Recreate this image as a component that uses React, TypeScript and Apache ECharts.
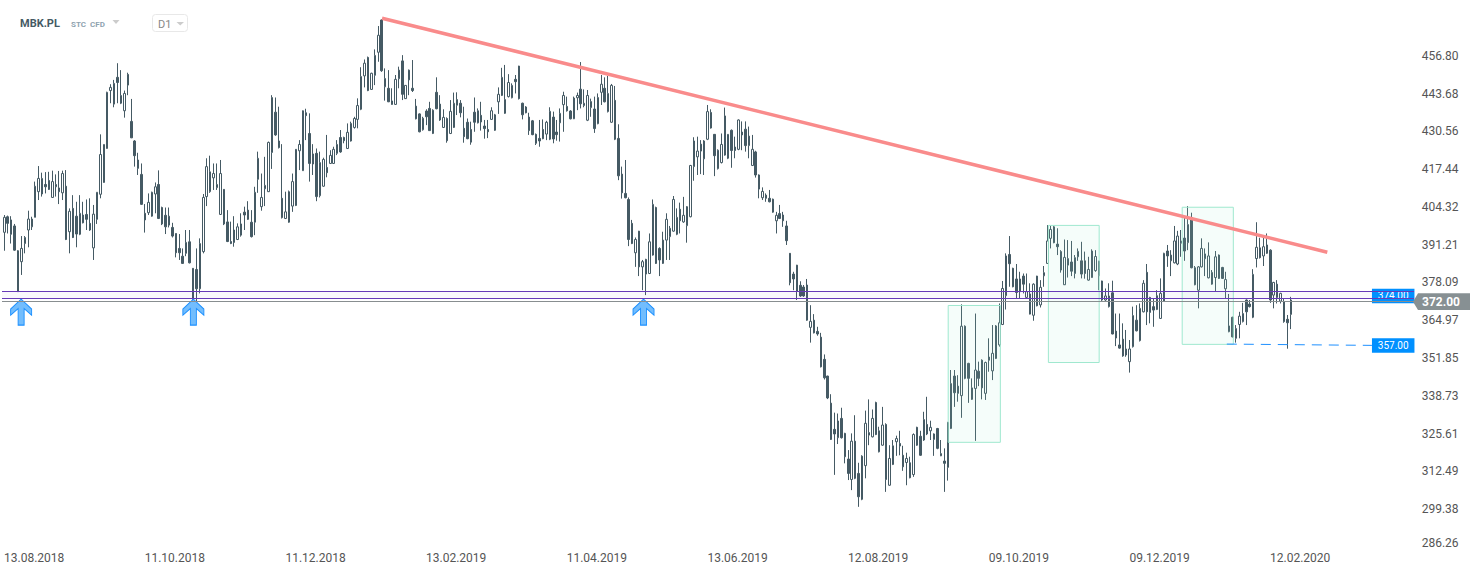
import React, { useEffect, useRef } from "react";
import * as echarts from "echarts";

// Candles: [open, close, low, high], grouped by leg of the move.
const autumn2018: number[][] = [
[395.5,400.7,389.1,401.5],[400.9,398.6,395.1,401.3],[394.8,399.8,391.6,401.1],[397.7,389.3,389.1,398.4],[389.1,374.9,374.9,389.3],[385.3,389.9,380.7,394.2],[391.6,393.7,388.2,394.2],[396.3,400.1,390.3,403.0],[397.4,400.1,396.3,400.9],[400.7,411.5,400.7,413.1],
[409.6,414.2,406.7,418.5],[408.8,414.2,407.9,416.2],[412.1,411.3,409.0,416.4],[413.5,410.4,410.2,416.5],[407.6,413.1,407.5,416.9],[411.3,412.1,407.9,415.6],[410.9,409.6,405.3,416.8],[409.2,415.9,406.7,416.9],[411.5,393.0,392.8,417.1],[395.7,402.8,388.2,403.8],
[403.8,393.7,393.5,408.4],[401.1,394.9,390.3,406.1],[394.8,402.1,394.5,408.4],[401.5,398.8,398.6,406.1],[401.7,400.0,396.3,406.9],[398.6,396.3,396.0,407.3],[390.1,401.8,385.9,405.0],[400.0,409.4,398.4,409.4],[408.7,422.5,407.3,429.5],[412.8,426.0,412.7,426.0],
[424.6,444.1,424.5,444.3],[444.7,445.8,440.3,446.9],[440.0,447.2,438.9,448.4],[449.3,447.5,440.3,454.2],[440.3,443.0,440.0,451.8],[437.7,443.7,435.3,444.7],[450.3,446.6,443.1,450.9],[434.0,428.3,428.2,441.8],[427.2,422.1,418.3,427.5],[420.6,417.7,415.4,423.1],
[415.6,405.2,405.0,419.4],[402.1,399.8,395.4,405.3],[402.3,405.9,401.5,409.0],[401.1,409.4,400.9,409.6],[408.8,411.3,402.1,412.8],[412.1,400.3,400.1,417.0],[404.1,398.4,398.0,404.4],[401.4,397.4,394.9,404.1],[398.0,401.1,397.2,404.1],[397.2,394.2,393.7,398.8],
[395.1,388.4,386.8,395.1],[389.9,388.4,385.9,394.9],[387.2,384.7,384.5,389.9],[388.2,392.0,387.2,396.3],[392.2,384.9,384.7,396.3],[383.0,372.0,371.6,383.0],[382.6,375.9,371.4,389.9],[375.9,391.6,374.3,393.4],[388.8,407.6,388.2,408.8],[407.9,418.3,404.6,421.2],
];
const winter2018: number[][] = [
[409.6,416.5,409.2,422.1],[414.4,415.9,410.2,419.4],[411.0,412.1,410.2,419.4],[401.7,415.9,401.5,420.6],[410.4,398.4,398.0,410.5],[399.1,392.3,392.1,403.2],[392.3,391.6,391.4,399.2],[396.3,392.0,390.5,401.1],[393.0,397.4,392.8,398.6],[394.5,398.4,394.0,402.1],
[402.5,401.5,396.3,404.4],[403.2,400.0,399.8,406.3],[399.0,394.0,393.7,403.2],[399.0,409.4,394.5,411.3],[413.9,421.2,409.2,423.5],[404.4,407.6,403.0,415.9],[410.6,411.8,404.6,421.7],[409.6,426.7,409.5,427.0],[423.2,442.3,417.5,443.1],[437.2,429.3,429.0,442.3],
[427.2,424.9,424.6,439.1],[407.3,400.6,400.3,426.1],[400.3,402.6,400.1,409.6],[399.0,409.6,398.8,410.0],[404.6,413.1,402.6,415.9],[404.8,424.3,404.6,424.4],[423.8,426.0,417.1,427.5],[416.9,437.7,416.8,437.8],[437.0,436.0,427.5,438.4],[429.8,419.4,413.1,436.8],
[422.7,419.2,415.4,426.1],[422.9,407.9,406.3,424.6],[408.2,419.7,407.6,423.5],[411.5,420.8,411.3,421.4],[418.0,416.2,414.6,429.3],[419.4,422.2,419.2,424.0],[419.4,424.3,419.2,425.2],[422.9,426.0,422.3,427.5],[428.4,423.4,423.1,431.0],[428.4,427.3,426.4,428.7],
[424.6,430.2,424.4,433.3],[427.2,433.3,427.0,433.9],[431.9,435.0,431.5,435.6],[434.7,439.5,431.6,442.0],[438.2,449.6,437.9,452.8],[449.8,454.2,445.8,455.5],[456.2,444.7,444.5,456.5],[445.1,450.7,444.9,450.9],[450.0,456.9,446.6,459.0],[458.0,463.9,454.7,467.1],
[469.2,451.6,451.2,469.4],
];
const spring2019: number[][] = [
[446.0,448.9,441.2,452.4],[445.5,440.8,440.7,451.8],[441.1,439.9,439.8,445.5],[439.9,448.6,439.7,450.1],[448.8,451.8,445.5,453.0],[455.0,443.4,441.4,457.0],[441.9,446.5,441.8,446.6],[448.4,451.8,443.1,452.0],[445.5,444.7,444.2,455.3],[439.3,434.9,434.7,441.8],
[436.6,430.4,430.2,436.8],[431.1,435.1,430.8,435.6],[437.6,435.6,432.7,438.2],[438.5,430.8,430.7,440.8],[429.8,437.9,429.6,438.2],[444.1,438.4,438.2,449.3],[440.0,434.5,434.2,443.1],[431.9,435.4,431.7,438.2],[435.0,427.3,426.6,435.4],[429.8,437.5,429.6,441.4],
[431.9,440.3,431.7,444.0],[439.6,441.6,436.2,444.1],[440.3,437.0,435.4,441.4],[431.6,428.7,426.6,439.1],[433.7,428.0,427.8,435.0],[431.2,426.8,425.9,433.9],[437.2,433.7,430.4,442.3],[433.5,437.7,433.3,438.5],[436.1,433.8,430.8,440.8],[432.4,431.5,428.0,434.5],
[431.2,430.4,428.2,434.5],[434.7,437.7,434.5,438.9],[430.9,436.3,430.7,436.6],[440.8,443.4,436.6,445.8],[443.0,449.3,442.8,452.6],[436.8,441.6,436.6,453.6],[442.6,447.5,442.3,450.4],[442.2,446.5,442.0,447.2],[448.6,447.8,443.7,450.1],[453.2,441.9,441.6,453.3],
[440.3,436.3,434.7,440.5],[439.0,437.0,436.8,439.3],[435.5,430.8,429.3,437.0],[434.2,429.4,429.2,434.5],[429.5,426.4,425.8,429.8],[428.1,427.2,425.2,434.5],[431.2,428.0,427.8,434.7],[429.6,433.7,427.5,434.2],[427.8,437.5,427.5,438.9],[435.5,427.9,426.4,437.4],
[430.3,429.4,427.3,434.5],[433.5,436.8,427.0,438.5],[439.8,443.0,430.4,444.3],[439.2,437.7,437.4,442.6],[437.6,434.9,434.7,437.9],[434.9,442.1,434.8,442.6],[442.2,443.0,437.9,444.0],[445.2,440.1,438.5,454.6],[439.5,440.3,438.9,445.1],[434.4,443.0,434.1,444.9],
[438.8,440.9,435.6,441.9],[438.3,431.5,430.0,442.6],[433.2,442.3,433.0,443.7],[444.1,446.9,439.7,450.1],[445.5,440.8,440.6,449.3],[437.4,443.7,437.1,449.8],[433.7,446.5,433.5,447.0],[441.3,427.8,427.5,446.3],[428.1,415.1,413.6,433.0],[415.7,409.2,407.2,418.3],
[409.0,407.5,407.3,420.6],[406.9,393.0,390.7,407.6],[398.6,391.6,391.4,399.8],[388.4,393.0,383.5,393.7],[395.9,383.5,380.3,396.0],[383.5,385.3,375.4,385.9],[386.1,381.0,373.7,386.3],[381.2,392.2,381.0,395.1],[387.6,405.2,387.4,406.9],[404.1,384.7,384.5,404.4],
[389.9,385.9,380.3,390.3],[384.7,392.8,384.5,395.7],[392.8,400.0,385.9,402.1],[394.0,396.9,385.9,397.7],[395.9,406.9,395.7,408.1],[394.8,400.7,394.5,403.8],
];
const summer2019: number[][] = [
[403.5,399.5,395.1,405.8],[399.1,401.4,398.8,407.8],[397.8,404.4,391.9,404.6],[400.9,418.7,400.7,418.9],[418.3,427.2,413.4,428.5],[421.7,423.7,415.4,428.7],[426.1,423.7,415.7,427.5],[421.0,427.2,415.4,427.5],[427.8,437.4,427.5,439.7],[437.1,431.7,431.5,438.2],
[429.5,422.1,415.0,429.6],[417.6,424.0,417.3,424.3],[419.7,426.0,419.4,429.8],[435.9,422.3,422.1,438.8],[421.2,429.5,420.9,429.6],[430.9,423.9,417.9,431.2],[425.1,423.9,421.2,428.7],[424.3,434.5,424.0,434.7],[430.3,429.3,424.0,434.0],[431.3,425.6,423.5,434.0],
[425.6,428.9,421.2,432.2],[418.7,424.3,418.5,429.3],[423.4,415.4,414.5,423.8],[415.4,410.5,407.3,415.6],[407.5,409.7,406.7,411.1],[408.4,407.3,406.1,409.0],[407.3,406.1,405.9,410.2],[407.0,402.5,402.3,407.2],[399.5,401.4,395.1,402.6],[402.0,400.3,400.1,405.0],
[401.5,399.5,397.4,402.6],[397.7,392.6,391.1,399.5],[388.2,378.0,377.1,388.3],[381.0,379.3,375.4,381.8],[384.1,375.1,372.0,384.2],[377.1,373.4,373.1,378.5],[376.5,373.4,373.1,377.2],[377.2,365.0,364.8,379.3],[362.5,364.6,357.2,370.2],[365.0,360.6,360.4,367.1],
[361.1,360.2,359.6,362.7],[359.1,348.8,348.6,360.6],[351.4,345.0,344.4,353.1],[345.6,338.0,337.6,345.7],[336.2,323.6,323.4,339.3],[327.1,325.5,311.3,332.9],[324.2,330.0,322.0,332.6],[330.9,324.2,323.9,334.6],[325.7,317.6,315.3,325.9],[316.8,311.8,309.5,319.9],
[309.7,323.0,306.0,325.7],[323.0,310.1,309.8,332.0],[311.8,303.7,300.2,315.5],[302.8,317.8,302.5,318.1],[314.5,329.2,310.1,333.6],[325.1,326.0,321.6,337.5],[324.5,330.9,324.3,334.0],[336.4,325.3,325.1,336.7],[319.3,326.6,319.1,328.0],[321.6,328.6,321.4,334.9],
[328.8,309.7,305.4,329.2],[307.7,317.0,307.5,321.6],[314.9,321.4,314.7,323.4],[322.8,323.9,317.9,324.9],[322.2,321.3,318.1,326.6],[318.1,314.1,312.7,321.4],[315.6,317.0,307.7,319.0],[315.5,310.3,310.1,317.6],[311.4,325.3,310.6,325.7],[327.8,321.6,321.4,328.0],
[324.7,318.1,317.9,326.6],[323.4,330.5,323.1,333.2],[328.8,325.5,325.1,338.4],[326.6,327.8,323.4,330.1],[323.6,325.5,317.9,325.7],[327.4,320.5,320.2,327.6],[317.9,318.7,317.8,323.4],[316.1,315.3,305.4,320.5],[313.9,329.5,309.3,329.7],
];
const autumn2019: number[][] = [
[327.4,343.0,327.2,347.7],[345.6,339.8,334.9,347.7],[342.1,339.6,336.7,345.9],[338.8,362.9,331.1,370.5],[362.9,344.8,344.5,363.2],[350.0,344.8,336.3,350.2],[337.5,341.5,337.3,344.8],[341.3,347.7,323.1,367.3],[347.3,344.8,342.1,350.6],
[351.1,341.5,337.5,351.4],[339.6,350.3,337.3,350.6],[352.2,351.1,347.1,358.7],[347.4,353.5,344.2,363.3],[351.7,363.0,351.5,363.3],[356.4,364.1,355.8,370.8],[363.5,376.0,363.3,378.6],[373.5,387.3,368.7,388.2],[387.8,384.6,376.6,394.2],[383.0,376.6,376.4,383.2],
[379.3,374.6,372.5,384.5],[374.9,379.3,372.5,381.8],[380.3,377.5,374.3,381.2],[372.9,374.9,372.5,381.2],[374.1,367.1,367.0,377.8],[366.7,377.5,364.8,377.8],[380.3,370.0,369.8,380.4],[370.3,376.4,369.4,378.9],[380.4,381.5,376.6,383.8],[384.7,392.5,384.5,398.0],
[393.4,396.5,389.9,397.7],[397.4,391.9,391.7,397.7],[391.4,390.5,387.6,396.9],[388.8,382.4,381.5,389.3],[377.3,386.8,377.2,393.0],[384.1,386.4,379.8,392.8],[385.2,382.0,380.3,392.5],[381.2,386.7,379.5,387.6],[387.0,388.9,385.6,389.9],[385.6,381.0,379.5,392.2],
[385.6,381.2,379.4,388.8],[378.9,382.6,378.7,387.0],[379.8,389.0,379.7,389.6],[382.2,387.1,381.8,389.3],[380.4,385.5,375.4,385.6],[378.6,372.0,371.7,378.7],[372.0,373.4,371.7,376.0],[369.7,373.4,369.4,377.8],[374.5,360.2,360.1,378.7],[361.2,358.8,356.0,367.3],
];
const winter2019: number[][] = [
[356.4,355.3,355.1,367.3],[358.4,352.6,352.3,363.9],[355.0,352.9,352.3,361.6],[350.6,355.0,346.8,358.1],[355.8,366.6,355.5,369.7],[365.0,361.3,361.1,370.2],[357.9,369.1,357.6,370.8],[367.9,377.8,367.7,378.9],[381.6,367.9,363.3,384.5],[372.9,367.7,363.9,373.1],
[369.7,368.5,362.7,372.5],[368.7,373.5,368.5,375.4],[365.6,374.3,365.4,379.5],[371.6,388.2,371.4,388.4],[389.0,387.3,383.5,391.1],[385.6,387.6,380.3,389.3],[384.9,392.5,384.7,397.7],[384.5,394.2,384.1,396.0],[392.5,391.7,387.0,396.3],[393.5,389.0,385.6,400.9],
[391.9,398.2,389.3,404.6],[400.6,383.2,383.0,402.3],[383.2,377.3,377.1,383.8],[375.4,383.5,369.1,383.8],[383.5,389.9,383.3,393.4],[386.3,388.0,380.3,389.9],[379.7,387.3,379.5,392.0],[377.5,381.6,377.3,382.4],[379.8,387.0,375.1,389.0],[387.6,379.5,379.3,387.8],
[383.3,379.5,379.3,383.5],[375.9,379.1,372.5,381.8],[361.0,363.0,360.8,374.1],[366.0,359.2,359.0,366.2],[358.7,362.1,357.2,363.3],[363.5,366.4,358.7,367.9],[364.5,367.3,364.2,371.0],[372.0,367.9,363.3,372.2],[370.6,369.7,369.4,372.0],[366.0,380.9,365.7,382.7],
[386.4,390.3,383.3,399.0],[390.1,386.7,386.4,393.6],[387.3,390.5,383.8,393.7],[388.2,391.1,388.0,395.1],[389.3,372.0,371.0,389.6],[373.7,378.1,369.1,378.3],[377.5,372.9,370.8,378.9],[371.6,374.3,370.8,374.5],[371.4,364.5,364.1,372.5],[365.3,364.1,355.1,366.8],
[367.0,372.0,361.9,373.1],
];
const candles = [...autumn2018, ...winter2018, ...spring2019, ...summer2019, ...autumn2019, ...winter2019];

const dateLabels = ["13.08.2018", "11.10.2018", "11.12.2018", "13.02.2019", "11.04.2019", "13.06.2019", "12.08.2019", "09.10.2019", "09.12.2019", "12.02.2020"];
const dateLabelBars = [9, 50, 91, 132, 173, 214, 255, 296, 337, 378];
const priceTicks = [286.26, 299.38, 312.49, 325.61, 338.73, 351.85, 364.97, 378.09, 391.21, 404.32, 417.44, 430.56, 443.68, 456.8];

const BAR_SLOTS = 411;
const categories: string[] = [];
for (let i = 0; i < BAR_SLOTS; i++) {
  const k = dateLabelBars.indexOf(i);
  categories.push(k >= 0 ? dateLabels[k] : "");
}

const PRICE_MIN = 286.26;
const PRICE_MAX = 476.14;

// Overlay drawings, in bar units and prices.
const trendLine = [[110.6, 469.8], [386.1, 388.6]];
const consolidationBoxes = [
  [275.6, 370.1, 290.8, 322.6],
  [304.8, 397.9, 319.6, 350.3],
  [343.8, 404.2, 358.7, 356.6],
];
const supportLines = [374.9, 372.6];
const lastPriceLine = 371.5;
const lastPriceLabel = "372.00";
const arrowBars = [5.4, 55.6, 186.8];
const arrowPrice = 367.8;
const dashedLevel = [[356.8, 356.7], [399.1, 356.25]];
const levelTags = [{ text: "374.00", price: 373.4 }, { text: "357.00", price: 356.2 }];
const levelTagBar = 405.3;
const SPAN_LEFT = -0.175;
const SPAN_RIGHT = 411.36;

const FONT = "Roboto";
const DARK = "#455a64";
const ARROW = "path://M10.5 0 L21 10 L21 16 L13.5 9.5 L13.5 26 L7.5 26 L7.5 9.5 L0 16 L0 10 Z";

function txt(text: string, x: number, y: number, font: string, fill: string) {
  return { type: "text", z: 20, style: { text, x, y, font, fill, textVerticalAlign: "middle", verticalAlign: "middle" } };
}

export default function App() {
  const ref = useRef<HTMLDivElement>(null);
  useEffect(() => {
    const chart = echarts.init(ref.current!, undefined, { renderer: "svg" });
    chart.setOption({
      animation: false,
      backgroundColor: "#ffffff",
      grid: [
        { left: 2.6, top: 0, width: 1410.1, height: 547 },
        { left: 2, top: 0, width: 1412, height: 547 },
      ],
      xAxis: [
        {
          type: "category",
          gridIndex: 0,
          data: categories,
          boundaryGap: true,
          axisLine: { show: false },
          axisTick: { show: false },
          splitLine: { show: false },
          axisLabel: {
            interval: (_i: number, v: string) => v !== "",
            margin: 5,
            padding: [0, 2, 0, 0],
            color: "#555555",
            fontFamily: FONT,
            fontSize: 12,
          },
        },
        { type: "value", gridIndex: 1, min: SPAN_LEFT, max: SPAN_RIGHT, show: false, splitLine: { show: false } },
      ],
      yAxis: [
        {
          type: "value",
          gridIndex: 0,
          position: "right",
          min: PRICE_MIN,
          max: PRICE_MAX,
          axisLine: { show: false },
          axisTick: { show: false },
          splitLine: { show: false },
          axisLabel: {
            customValues: priceTicks,
            formatter: (v: number) => v.toFixed(2),
            margin: 9,
            color: "#555555",
            fontFamily: FONT,
            fontSize: 12,
            lineHeight: 8,
            verticalAlignMinLabel: "bottom",
          },
        },
        { type: "value", gridIndex: 1, min: PRICE_MIN, max: PRICE_MAX, show: false, splitLine: { show: false } },
      ],
      series: [
        {
          type: "candlestick",
          xAxisIndex: 0,
          yAxisIndex: 0,
          data: candles,
          barWidth: 2,
          z: 2,
          itemStyle: { color: "#ffffff", color0: DARK, borderColor: DARK, borderColor0: DARK, borderWidth: 1 },
          silent: true,
        },
        {
          type: "line",
          xAxisIndex: 1,
          yAxisIndex: 1,
          data: trendLine,
          symbol: "none",
          silent: true,
          z: 7,
          lineStyle: { color: "#f98b8b", width: 3.5 },
          markArea: {
            silent: true,
            z: 3,
            data: [
              ...consolidationBoxes.map((b) => [
                { coord: [b[0], b[1]], itemStyle: { color: "rgba(160,235,210,0.10)", borderColor: "#9fe8cf", borderWidth: 1 } },
                { coord: [b[2], b[3]] },
              ]),
              [
                { coord: [SPAN_LEFT, supportLines[0]], itemStyle: { color: "rgba(103,58,183,0.035)" } },
                { coord: [SPAN_RIGHT, supportLines[1]] },
              ],
            ],
          },
          markLine: {
            silent: true,
            z: 6,
            symbol: ["none", "none"],
            label: { show: false },
            data: [
              ...supportLines.map((p) => [
                { coord: [SPAN_LEFT, p], lineStyle: { color: "#673ab7", width: 1, type: "solid" } },
                { coord: [SPAN_RIGHT, p] },
              ]),
              [
                { coord: [SPAN_LEFT, lastPriceLine], lineStyle: { color: "#888e90", width: 1, type: "solid" } },
                { coord: [SPAN_RIGHT, lastPriceLine] },
              ],
              [
                { coord: dashedLevel[0], lineStyle: { color: "#1e90ff", width: 1, type: [10, 7] } },
                { coord: dashedLevel[1] },
              ],
            ],
          },
          markPoint: {
            silent: true,
            z: 4,
            data: [
              ...arrowBars.map((b) => ({
                coord: [b, arrowPrice],
                symbol: ARROW,
                symbolSize: [21, 26],
                symbolKeepAspect: false,
                itemStyle: { color: "#72bdfd", borderColor: "#1a8fff", borderWidth: 1 },
                label: { show: false },
              })),
              ...levelTags.map((t) => ({
                coord: [levelTagBar, t.price],
                symbol: "rect",
                symbolSize: [42.5, 14.5],
                itemStyle: { color: "#0090ff" },
                label: {
                  show: true,
                  position: "inside",
                  formatter: t.text,
                  color: "#ffffff",
                  fontFamily: FONT,
                  fontSize: 10,
                },
              })),
            ],
          },
        },
      ],
      graphic: [
        txt("MBK.PL", 20, 23.5, `bold 11px ${FONT}`, DARK),
        txt("STC", 71, 24, `bold 8px ${FONT}`, "#8fa3b0"),
        txt("CFD", 90, 24, `bold 8px ${FONT}`, "#8fa3b0"),
        { type: "polygon", z: 20, shape: { points: [[112.5, 20], [119.5, 20], [116, 24]] }, style: { fill: "#cccccc" } },
        { type: "rect", z: 19, shape: { x: 152.5, y: 14.5, width: 35, height: 17, r: 3 }, style: { fill: "#ffffff", stroke: "#e8e8e8", lineWidth: 1 } },
        txt("D1", 158, 24, `11px ${FONT}`, "#888888"),
        { type: "polygon", z: 20, shape: { points: [[176.5, 22], [184, 22], [180.2, 25.5]] }, style: { fill: "#cccccc" } },
        { type: "polygon", z: 20, shape: { points: [[1413, 301.7], [1418, 293.3], [1470, 293.3], [1470, 310], [1418, 310]] }, style: { fill: "#879093" } },
        txt(lastPriceLabel, 1422, 302, `bold 12px ${FONT}`, "#ffffff"),
      ],
    });
    return () => chart.dispose();
  }, []);
  return <div ref={ref} style={{ position: "absolute", left: 0, top: 0, width: 1482, height: 574, background: "#fff" }} />;
}
